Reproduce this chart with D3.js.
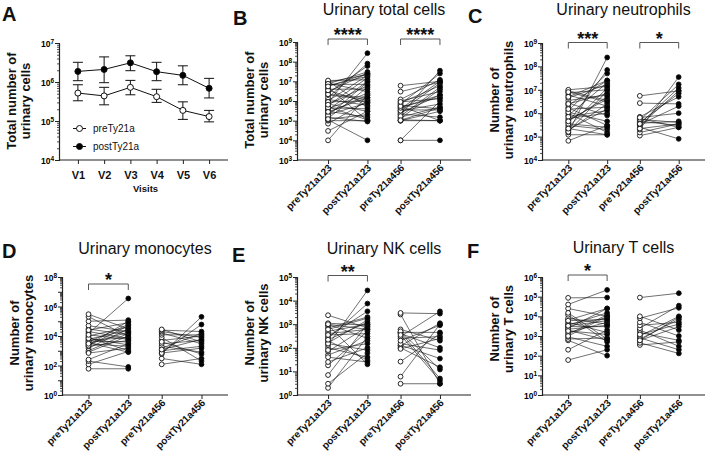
<!DOCTYPE html>
<html><head><meta charset="utf-8">
<script src="https://cdn.jsdelivr.net/npm/d3@7"></script>
<style>
body{margin:0;background:#fff;}
svg{display:block;}
</style></head><body>
<svg id="chart" width="707" height="455"></svg>
<script>
// ---------------- DATA ----------------
// Panel A: mean with error bars per visit
const visits = ["V1","V2","V3","V4","V5","V6"];
const preMean  = [5.2e5, 4.4e5, 7.3e5, 4.2e5, 1.87e5, 1.3e5];
const preLow   = [3.3e5, 2.6e5, 4.7e5, 3.0e5, 1.1e5, 0.95e5];
const preHigh  = [8.5e5, 7.3e5, 1.1e6, 6.5e5, 3.1e5, 1.87e5];
const postMean = [1.87e6, 2.1e6, 3.1e6, 1.84e6, 1.48e6, 0.69e6];
const postLow  = [1.08e6, 0.96e6, 1.95e6, 1.08e6, 0.85e6, 0.39e6];
const postHigh = [3.2e6, 4.4e6, 4.7e6, 3.2e6, 2.6e6, 1.24e6];
const legendLabels = ["preTy21a","postTy21a"];

const groups = ["preTy21a123","postTy21a123","preTy21a456","postTy21a456"];

// Panel B: total cells (paired)
const totalPre123  = [1e4,3e4,7e4,1e5,1.1e5,1.3e5,1.5e5,2e5,2.5e5,3e5,3.5e5,4e5,5e5,6e5,7e5,8e5,1e6,1.2e6,1.5e6,2e6,2.5e6,3e6,4e6,5e6,6e6,7e6,8e6,9e6,1e7,1.1e7,1.8e5,4.5e5,9e5,2.2e6,7.5e6,1.2e5,6.5e5,3.5e6,2.8e5,5.5e6];
const totalPost123 = [2e6,3e5,1e6,1e5,1e4,5e6,9e4,8e5,2e6,1.5e5,1e7,2.5e6,1.1e5,1.5e7,3e5,2.7e8,2e7,6e5,8e7,1.2e6,6e7,2.5e7,4e6,1e5,1.8e7,7e6,3e6,2.2e7,5e5,1.2e7,9e6,4e5,1e6,1.5e6,3e7,2e5,6e6,8e5,1.5e6,2.5e7];
const totalPre456  = [1e4,1e4,1e5,1e5,1.1e5,1.3e5,1.5e5,2e5,2.5e5,3e5,3.5e5,4e5,5e5,6e5,7e5,8e5,1e6,1.2e6,3e6,6e6,2.2e5,3.2e5,1.7e5,4.5e5,1.05e5,5.5e5,9e5];
const totalPost456 = [1e4,1e6,1e5,3e5,1e5,4e6,5e5,3.5e7,2e6,8e6,3.5e5,1e7,1.5e6,4e5,2.5e7,6e6,3e6,1.2e7,9e6,1e7,1.5e5,7e5,5e6,2e6,4.5e5,1e5,1.3e6];

// Panel C: neutrophils
const neutPre123  = [6.6e4,1.2e5,1.5e5,1.8e5,2e5,2.5e5,3e5,4e5,5e5,6e5,8e5,1e6,1.3e6,1.7e6,2.2e6,2.7e6,3.5e6,4.5e6,6e6,7.5e6,9e6,1e7,1.6e5,3.5e5,7e5,1.1e6,2.5e6,5e6,8e6,2.2e5,4.5e5,1.5e6];
const neutPost123 = [3e5,1.2e5,2.4e8,2.5e6,1.5e6,1.2e7,2e5,7e7,4e6,1e6,2e7,1.5e5,5e7,3e5,2.5e7,8e5,6e6,1.7e7,2e6,1e7,3.5e6,1.4e7,9e6,2.5e5,1.3e6,4.5e5,7e6,2.5e7,3e6,1.2e5,5e6,1.8e6];
const neutPre456  = [1.1e5,1.5e5,2e5,2.5e5,3e5,3.3e5,3.7e5,4e5,4.5e5,5e5,6e5,7e5,2.7e6,5.5e6,2.2e5,3.5e5,5.5e5,6.5e5];
const neutPost456 = [2.5e5,3.5e5,3.5e7,8e4,9e6,2e6,4.5e5,7e6,3e5,1.7e7,2.5e5,5e6,2.5e6,9e6,3.5e5,1.2e7,4e5,1e6];

// Panel D: monocytes
const monoPre123  = [60,120,200,250,800,1000,1500,2000,2500,3000,3500,4000,5000,6000,8000,1e4,1.5e4,2e4,3e4,5e4,1e5,2e5,3e5,700,2200,4500,7000,2.5e4,1.2e4,3000];
const monoPost123 = [60,900,80,3000,1e4,1.5e4,3e4,5000,1e5,2000,800,6e4,8000,2.5e4,1000,4e4,3.5e6,7000,1.2e4,2e4,1.2e5,1e4,3e4,1500,5e4,4000,2500,8e4,6000,1.8e4];
const monoPre456  = [120,300,600,800,1000,1500,2000,3000,5000,8000,1.2e4,1.6e4,2e4,2.5e4,2.8e4,700,4000,1200];
const monoPost456 = [300,120,2e5,6e4,2000,1.5e4,800,5000,1e4,200,1.2e4,3000,8000,2e4,4000,1500,600,6000];

// Panel E: NK cells
const nkPre123  = [2,3,7,18,25,50,70,100,130,160,200,250,300,400,500,700,900,1000,1100,2400,150,220,350,80,40,600,1000];
const nkPost123 = [300,60,1000,500,100,200,800,40,2.7e4,1500,30,7500,3500,600,1000,2000,20,250,900,700,80,1200,400,150,25,1800,600];
const nkPre456  = [3,6,26,100,120,250,300,450,450,600,2600,3000,130,400,150,500,200,90,350];
const nkPost456 = [3,1000,400,15,1100,300,3500,5,450,200,3,2800,35,100,80,12,900,250,4];

// Panel F: T cells
const tPre123  = [60,200,600,700,900,1200,1500,2000,2500,3000,3500,4000,5000,6500,8000,1.2e4,2.5e4,4e4,8.7e4,1000,2200,3300,1800,6000,1.5e4];
const tPost123 = [200,2000,100,800,300,1.2e4,5000,600,2.5e4,3000,1.5e4,8000,1500,2.5e4,4000,500,1e4,2.2e5,9e4,1e4,3500,6000,1200,7000,700];
const tPre456  = [350,450,600,700,800,1000,1500,2000,2500,3500,5000,8000,1e4,9e4,1200,600];
const tPost456 = [500,130,3000,7000,200,1e4,600,300,3.5e4,5000,1000,2.7e4,2000,1.5e5,4000,9000];

// ---------------- DRAWING ----------------
const FONT = 'Arial, "Liberation Sans", sans-serif';
const svg = d3.select("#chart").attr("font-family", FONT);

function decadeTicks(lo, hi) { const a=[]; for (let k=lo;k<=hi;k++) a.push(Math.pow(10,k)); return a; }
function minorTicks(lo, hi) { const a=[]; for (let k=lo;k<hi;k++) for (let m=2;m<=9;m++) a.push(m*Math.pow(10,k)); return a; }

function drawYAxis(g, y, left, lo, hi, step) {
  const majors = decadeTicks(lo, hi);
  g.append("g").attr("transform",`translate(${left},0)`)
    .call(d3.axisLeft(y).tickValues(minorTicks(lo,hi)).tickSize(2).tickFormat(""))
    .call(s=>s.select(".domain").remove())
    .call(s=>s.selectAll("line").attr("stroke","#222").attr("stroke-width",0.8));
  const ga = g.append("g").attr("transform",`translate(${left},0)`)
    .call(d3.axisLeft(y).tickValues(majors).tickSize(4).tickPadding(1));
  ga.attr("font-family", FONT);
  ga.select(".domain").attr("stroke","#222").attr("stroke-width",1.2);
  ga.selectAll(".tick line").attr("stroke","#222").attr("stroke-width",1);
  ga.selectAll(".tick text").each(function(d){
    const e = Math.round(Math.log10(d));
    const t = d3.select(this);
    if ((e - lo) % step !== 0) { t.remove(); return; }
    t.text(null).attr("font-size",8.5).attr("font-weight","bold").attr("fill","#000").attr("dy","0.42em");
    t.append("tspan").text("10");
    t.append("tspan").attr("dy","-3").attr("font-size",6.5).text(e);
  });
}

function yLabel(g, lines, left, cy) {
  const offs = [-43, -29];
  lines.forEach((s,i)=>{
    g.append("text").attr("transform",`translate(${left+offs[i]},${cy}) rotate(-90)`)
      .attr("text-anchor","middle").attr("font-size",13).attr("font-weight","bold").attr("fill","#111").text(s);
  });
}

function letter(g, L, x, y) {
  g.append("text").attr("x",x).attr("y",y).attr("font-size",20).attr("font-weight","bold").attr("fill","#111").text(L);
}

// ----- Panel A -----
(function(){
  const left=59,right=228,top=43,bottom=160;
  const g = svg.append("g");
  const x = d3.scalePoint().domain(visits).range([left,right]).padding(0.72);
  const y = d3.scaleLog().domain([1e4,1e7]).range([bottom,top]);
  letter(g,"A",2,21);
  yLabel(g,["Total number of","urinary cells"],left,101);
  drawYAxis(g,y,left,4,7,1);
  g.append("line").attr("x1",left).attr("x2",right).attr("y1",bottom).attr("y2",bottom).attr("stroke","#222").attr("stroke-width",1.2);
  const gx = g.append("g").attr("transform",`translate(0,${bottom})`).call(d3.axisBottom(x).tickSize(4).tickPadding(7));
  gx.select(".domain").remove();
  gx.selectAll(".tick line").attr("stroke","#222");
  gx.selectAll(".tick text").attr("font-family",FONT).attr("font-size",11).attr("font-weight","bold").attr("fill","#111");
  g.append("text").attr("x",(left+right)/2+2).attr("y",192).attr("text-anchor","middle").attr("font-size",9.5).attr("font-weight","bold").attr("fill","#111").text("Visits");

  const series = [
    {mean:preMean, low:preLow, high:preHigh, fill:"#fff"},
    {mean:postMean, low:postLow, high:postHigh, fill:"#000"}
  ];
  series.forEach(s=>{
    const ge = g.append("g");
    visits.forEach((v,i)=>{
      const cx = x(v);
      ge.append("line").attr("x1",cx).attr("x2",cx).attr("y1",y(s.low[i])).attr("y2",y(s.high[i])).attr("stroke","#111").attr("stroke-width",1);
      [s.low[i], s.high[i]].forEach(val=>{
        ge.append("line").attr("x1",cx-5).attr("x2",cx+5).attr("y1",y(val)).attr("y2",y(val)).attr("stroke","#111").attr("stroke-width",1);
      });
    });
    g.append("path").datum(s.mean).attr("fill","none").attr("stroke","#111").attr("stroke-width",1)
      .attr("d", d3.line().x((d,i)=>x(visits[i])).y(d=>y(d)));
  });
  series.forEach(s=>{
    g.selectAll(null).data(s.mean).enter().append("circle")
      .attr("cx",(d,i)=>x(visits[i])).attr("cy",d=>y(d)).attr("r",3)
      .attr("fill",s.fill).attr("stroke","#111").attr("stroke-width",1);
  });
  // legend
  legendLabels.forEach((lab,i)=>{
    const ly = 128.5 + i*18;
    g.append("line").attr("x1",73).attr("x2",86).attr("y1",ly).attr("y2",ly).attr("stroke","#111");
    g.append("circle").attr("cx",79.5).attr("cy",ly).attr("r",3).attr("fill",series[i].fill).attr("stroke","#111");
    g.append("text").attr("x",93).attr("y",ly).attr("dy","0.35em").attr("font-size",10).attr("fill","#111").text(lab);
  });
})();

// ----- Paired panels -----
const panels = [
  {L:"B", lx:233, ly:25, title:"Urinary total cells", ty:15, ylab:["Total number of","urinary cells"], ycy:100,
   left:297, right:471, top:42, bottom:160, po:0.2, lo:3, hi:9, step:1,
   data:[totalPre123,totalPost123,totalPre456,totalPost456], sig:["****","****"], by:39},
  {L:"C", lx:468, ly:23, title:"Urinary neutrophils", ty:15, ylab:["Number of","urinary neutrophils"], ycy:100,
   left:542, right:705, top:43, bottom:160, po:0.14, lo:4, hi:9, step:1,
   data:[neutPre123,neutPost123,neutPre456,neutPost456], sig:["***","*"], by:42.5},
  {L:"D", lx:2, ly:258, title:"Urinary monocytes", ty:254, ylab:["Number of","urinary monocytes"], ycy:333,
   left:62, right:228, top:277, bottom:395, po:0.134, lo:0, hi:8, step:2,
   data:[monoPre123,monoPost123,monoPre456,monoPost456], sig:["*",null], by:284},
  {L:"E", lx:232, ly:262, title:"Urinary NK cells", ty:254, ylab:["Number of","urinary NK cells"], ycy:333,
   left:297, right:471, top:277, bottom:395, po:0.2, lo:0, hi:5, step:1,
   data:[nkPre123,nkPost123,nkPre456,nkPost456], sig:["**",null], by:275.5},
  {L:"F", lx:467, ly:258, title:"Urinary T cells", ty:253, ylab:["Number of","urinary T cells"], ycy:329,
   left:542, right:705, top:277, bottom:395, po:0.136, lo:0, hi:6, step:1,
   data:[tPre123,tPost123,tPre456,tPost456], sig:["*",null], by:275}
];

panels.forEach(p=>{
  const g = svg.append("g");
  const outer = d3.scaleBand().domain(["123","456"]).range([p.left,p.right]).paddingInner(0).paddingOuter(p.po);
  const inner = d3.scalePoint().domain(["pre","post"]).range([0,outer.bandwidth()]).padding(0.42);
  const x = d3.scaleOrdinal().domain(groups)
    .range(groups.map(c=>outer(c.slice(-3)) + inner(c.startsWith("pre")?"pre":"post")));
  const y = d3.scaleLog().domain([Math.pow(10,p.lo),Math.pow(10,p.hi)]).range([p.bottom,p.top]);

  letter(g,p.L,p.lx,p.ly);
  g.append("text").attr("x",(p.left+p.right)/2).attr("y",p.ty).attr("text-anchor","middle")
    .attr("font-size",16).attr("fill","#111").text(p.title);
  yLabel(g,p.ylab,p.left,p.ycy);
  drawYAxis(g,y,p.left,p.lo,p.hi,p.step);
  g.append("line").attr("x1",p.left).attr("x2",p.right).attr("y1",p.bottom).attr("y2",p.bottom).attr("stroke","#222").attr("stroke-width",1.2);
  const gx = g.append("g").attr("transform",`translate(0,${p.bottom})`).call(d3.axisBottom(x).tickSize(4));
  gx.select(".domain").remove();
  gx.selectAll(".tick line").attr("stroke","#222");
  gx.selectAll(".tick text").attr("font-family",FONT).attr("font-size",10).attr("font-weight","bold").attr("fill","#111")
    .attr("x",0).attr("y",0).attr("dy",0).attr("text-anchor","end").attr("transform","translate(4,8.5) rotate(-45)");

  // paired lines
  [[0,1],[2,3]].forEach(([a,b])=>{
    const pre = p.data[a], post = p.data[b];
    g.append("g").selectAll("line").data(pre).enter().append("line")
      .attr("x1",x(groups[a])).attr("x2",x(groups[b]))
      .attr("y1",d=>y(d)).attr("y2",(d,i)=>y(post[i]))
      .attr("stroke","#111").attr("stroke-width",0.6);
  });
  // points
  p.data.forEach((arr,k)=>{
    g.append("g").selectAll("circle").data(arr).enter().append("circle")
      .attr("cx",x(groups[k])).attr("cy",d=>y(d)).attr("r",2.4)
      .attr("fill",k%2===0?"#fff":"#000").attr("stroke","#111").attr("stroke-width",0.9);
  });
  // significance brackets
  p.sig.forEach((s,j)=>{
    if(!s) return;
    const x1 = x(groups[2*j]), x2 = x(groups[2*j+1]);
    g.append("path").attr("d",`M${x1},${p.by+6}V${p.by}H${x2}V${p.by+6}`)
      .attr("fill","none").attr("stroke","#444").attr("stroke-width",0.9);
    g.append("text").attr("x",(x1+x2)/2).attr("y",p.by+2).attr("text-anchor","middle")
      .attr("font-size",18).attr("font-weight","bold").attr("fill","#111").text(s);
  });
});
</script></body></html>
